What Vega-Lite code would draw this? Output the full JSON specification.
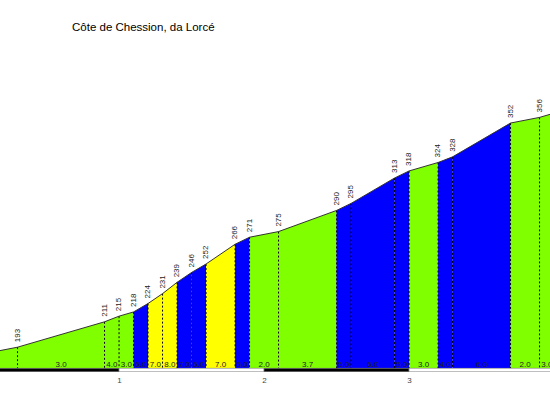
{
  "$schema": "https://vega.github.io/schema/vega-lite/v6.json",
  "width": 550,
  "height": 332,
  "autosize": {"type": "none"},
  "padding": {"left": 0, "top": 40, "right": 0, "bottom": 28},
  "background": "white",
  "config": {"view": {"stroke": null}, "font": "Liberation Sans"},
  "title": {"text": "Côte de Chession, da Lorcé", "anchor": "start", "dx": 72, "dy": 0, "fontSize": 11.5, "fontWeight": "normal", "color": "black", "font": "Liberation Sans", "offset": 7},
  "datasets": {
    "profile": [
      {"seg": 1, "km": 0.0, "elev": 187, "cls": "g"}, {"seg": 1, "km": 0.3, "elev": 193, "cls": "g"},
      {"seg": 2, "km": 0.3, "elev": 193, "cls": "g"}, {"seg": 2, "km": 0.9, "elev": 211, "cls": "g"},
      {"seg": 3, "km": 0.9, "elev": 211, "cls": "g"}, {"seg": 3, "km": 1.0, "elev": 215, "cls": "g"},
      {"seg": 4, "km": 1.0, "elev": 215, "cls": "g"}, {"seg": 4, "km": 1.1, "elev": 218, "cls": "g"},
      {"seg": 5, "km": 1.1, "elev": 218, "cls": "b"}, {"seg": 5, "km": 1.2, "elev": 224, "cls": "b"},
      {"seg": 6, "km": 1.2, "elev": 224, "cls": "y"}, {"seg": 6, "km": 1.3, "elev": 231, "cls": "y"},
      {"seg": 7, "km": 1.3, "elev": 231, "cls": "y"}, {"seg": 7, "km": 1.4, "elev": 239, "cls": "y"},
      {"seg": 8, "km": 1.4, "elev": 239, "cls": "b"}, {"seg": 8, "km": 1.5, "elev": 246, "cls": "b"},
      {"seg": 9, "km": 1.5, "elev": 246, "cls": "b"}, {"seg": 9, "km": 1.6, "elev": 252, "cls": "b"},
      {"seg": 10, "km": 1.6, "elev": 252, "cls": "y"}, {"seg": 10, "km": 1.8, "elev": 266, "cls": "y"},
      {"seg": 11, "km": 1.8, "elev": 266, "cls": "b"}, {"seg": 11, "km": 1.9, "elev": 271, "cls": "b"},
      {"seg": 12, "km": 1.9, "elev": 271, "cls": "g"}, {"seg": 12, "km": 2.1, "elev": 275, "cls": "g"},
      {"seg": 13, "km": 2.1, "elev": 275, "cls": "g"}, {"seg": 13, "km": 2.5, "elev": 290, "cls": "g"},
      {"seg": 14, "km": 2.5, "elev": 290, "cls": "b"}, {"seg": 14, "km": 2.6, "elev": 295, "cls": "b"},
      {"seg": 15, "km": 2.6, "elev": 295, "cls": "b"}, {"seg": 15, "km": 2.9, "elev": 313, "cls": "b"},
      {"seg": 16, "km": 2.9, "elev": 313, "cls": "b"}, {"seg": 16, "km": 3.0, "elev": 318, "cls": "b"},
      {"seg": 17, "km": 3.0, "elev": 318, "cls": "g"}, {"seg": 17, "km": 3.2, "elev": 324, "cls": "g"},
      {"seg": 18, "km": 3.2, "elev": 324, "cls": "b"}, {"seg": 18, "km": 3.3, "elev": 328, "cls": "b"},
      {"seg": 19, "km": 3.3, "elev": 328, "cls": "b"}, {"seg": 19, "km": 3.7, "elev": 352, "cls": "b"},
      {"seg": 20, "km": 3.7, "elev": 352, "cls": "g"}, {"seg": 20, "km": 3.9, "elev": 356, "cls": "g"},
      {"seg": 21, "km": 3.9, "elev": 356, "cls": "g"}, {"seg": 21, "km": 4.0, "elev": 359, "cls": "g"}
    ],
    "points": [
      {"km": 0.0, "elev": 187}, {"km": 0.3, "elev": 193}, {"km": 0.9, "elev": 211}, {"km": 1.0, "elev": 215},
      {"km": 1.1, "elev": 218}, {"km": 1.2, "elev": 224}, {"km": 1.3, "elev": 231}, {"km": 1.4, "elev": 239},
      {"km": 1.5, "elev": 246}, {"km": 1.6, "elev": 252}, {"km": 1.8, "elev": 266}, {"km": 1.9, "elev": 271},
      {"km": 2.1, "elev": 275}, {"km": 2.5, "elev": 290}, {"km": 2.6, "elev": 295}, {"km": 2.9, "elev": 313},
      {"km": 3.0, "elev": 318}, {"km": 3.2, "elev": 324}, {"km": 3.3, "elev": 328}, {"km": 3.7, "elev": 352},
      {"km": 3.9, "elev": 356}, {"km": 4.0, "elev": 359}
    ],
    "grades": [
      {"mid": 0.6, "grade": 3.0}, {"mid": 0.95, "grade": 4.0}, {"mid": 1.05, "grade": 3.0},
      {"mid": 1.15, "grade": 6.0}, {"mid": 1.25, "grade": 7.0}, {"mid": 1.35, "grade": 8.0}, {"mid": 1.45, "grade": 7.0},
      {"mid": 1.55, "grade": 6.0}, {"mid": 1.7, "grade": 7.0}, {"mid": 1.85, "grade": 5.0}, {"mid": 2.0, "grade": 2.0},
      {"mid": 2.3, "grade": 3.7}, {"mid": 2.55, "grade": 5.0}, {"mid": 2.75, "grade": 6.0}, {"mid": 2.95, "grade": 5.0},
      {"mid": 3.1, "grade": 3.0}, {"mid": 3.25, "grade": 4.0}, {"mid": 3.5, "grade": 6.0}, {"mid": 3.8, "grade": 2.0},
      {"mid": 3.95, "grade": 3.0}
    ],
    "bar": [
      {"k0": 0, "k1": 1, "c": "black"}, {"k0": 1, "k1": 2, "c": "white"},
      {"k0": 2, "k1": 3, "c": "black"}, {"k0": 3, "k1": 4, "c": "white"}
    ]
  },
  "encoding": {
    "x": {"field": "km", "type": "quantitative", "scale": {"domain": [0.179, 3.972], "nice": false, "zero": false},
      "axis": {"values": [1, 2, 3], "format": "d", "domain": false, "ticks": false, "grid": false, "labelFontSize": 8, "labelColor": "#444444", "labelPadding": 4, "labelFont": "Liberation Sans", "title": null}}
  },
  "resolve": {"scale": {"color": "independent"}},
  "layer": [
    {
      "data": {"name": "profile"},
      "mark": {"type": "area", "clip": true, "strokeWidth": 0},
      "encoding": {
        "y": {"field": "elev", "type": "quantitative", "stack": null, "scale": {"domain": [175.4, 410.9], "nice": false, "zero": false}, "axis": null},
        "y2": {"datum": 178},
        "detail": {"field": "seg"},
        "color": {"field": "cls", "type": "nominal", "scale": {"domain": ["g", "b", "y"], "range": ["#80FF00", "#0000FF", "#FFFF00"]}, "legend": null}
      }
    },
    {
      "data": {"name": "points"},
      "mark": {"type": "rule", "clip": true, "color": "black", "strokeWidth": 1, "strokeDash": [2, 2]},
      "encoding": {
        "y": {"field": "elev", "type": "quantitative"},
        "y2": {"datum": 178}
      }
    },
    {
      "data": {"name": "points"},
      "mark": {"type": "line", "clip": true, "color": "#333333", "strokeWidth": 1},
      "encoding": {
        "y": {"field": "elev", "type": "quantitative"}
      }
    },
    {
      "data": {"name": "points"},
      "transform": [{"filter": "datum.km > 0.2 && datum.km < 3.95"}],
      "mark": {"type": "text", "clip": true, "angle": 270, "align": "left", "baseline": "middle", "dx": 5, "fontSize": 8, "color": "#222222", "font": "Liberation Sans"},
      "encoding": {
        "y": {"field": "elev", "type": "quantitative"},
        "text": {"field": "elev", "type": "quantitative"}
      }
    },
    {
      "data": {"name": "grades"},
      "mark": {"type": "text", "clip": true, "align": "center", "baseline": "alphabetic", "dy": -1, "fontSize": 8, "color": "#222222", "font": "Liberation Sans"},
      "encoding": {
        "x": {"field": "mid", "type": "quantitative"},
        "y": {"datum": 178},
        "text": {"field": "grade", "type": "quantitative", "format": ".1f"}
      }
    },
    {
      "data": {"name": "bar"},
      "mark": {"type": "rect", "clip": true, "stroke": "#777777", "strokeWidth": 0.6},
      "encoding": {
        "x": {"field": "k0", "type": "quantitative"},
        "x2": {"field": "k1"},
        "y": {"datum": 178},
        "y2": {"datum": 175.6},
        "color": {"field": "c", "type": "nominal", "scale": {"domain": ["black", "white"], "range": ["black", "white"]}, "legend": null}
      }
    }
  ]
}
